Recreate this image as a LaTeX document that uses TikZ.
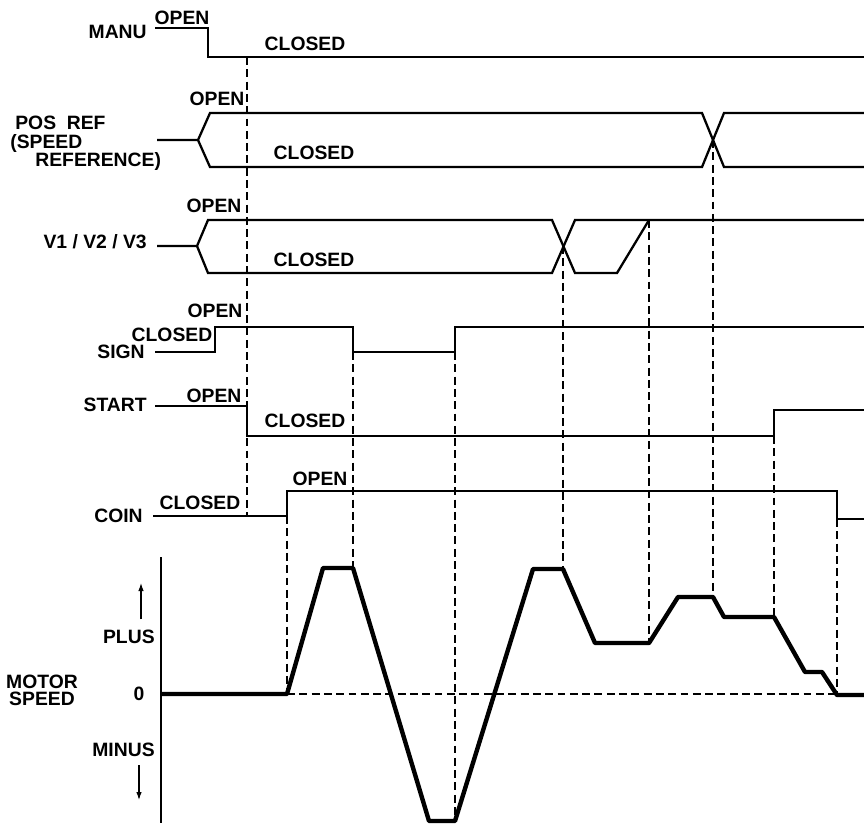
\documentclass[tikz,border=0pt]{standalone}
\usepackage{fontspec}
\setmainfont{Liberation Sans}
\usetikzlibrary{arrows.meta}
\tikzset{
  sig/.style={line width=1.3pt, line join=miter},
  speed/.style={line width=2.5pt, line join=round},
  guide/.style={line width=0.7pt, dash pattern=on 4.5pt off 2.5pt},
  lbl/.style={inner sep=0pt, font=\bfseries\fontsize{11}{11}\selectfont},
  tip/.style={-{Latex[length=1.6mm,width=1.1mm]}, line width=0.6pt}
}

\begin{document}
\begin{tikzpicture}[x=0.02cm, y=-0.02cm]
  \useasboundingbox (0,0) rectangle (864,823);

  % signal names
  \node[lbl, anchor=east] (manu) at (147,32) {MANU};
  \node[lbl, anchor=north west, align=left, font=\bfseries\fontsize{11}{10.4}\selectfont] (posref) at (10,116)
    {\hspace*{0.1cm}POS\ \ REF\\(SPEED\\\hspace*{0.5cm}REFERENCE)};
  \node[lbl, anchor=east] (vvv) at (147,242) {V1 / V2 / V3};
  \node[lbl, anchor=east] (sign) at (145,352) {SIGN};
  \node[lbl, anchor=east] (start) at (147,405) {START};
  \node[lbl, anchor=east] (coin) at (143,516) {COIN};
  \node[lbl, align=center, font=\bfseries\fontsize{11}{9.6}\selectfont] (motor) at (42,690) {MOTOR\\SPEED};

  % state labels
  \node[lbl] (manuOpen) at (182,18) {OPEN};
  \node[lbl] (manuClosed) at (305,44) {CLOSED};
  \node[lbl] (posOpen) at (217,99) {OPEN};
  \node[lbl] (posClosed) at (314,153) {CLOSED};
  \node[lbl] (vOpen) at (214,206) {OPEN};
  \node[lbl] (vClosed) at (314,260) {CLOSED};
  \node[lbl] (signOpen) at (215,311) {OPEN};
  \node[lbl] (signClosed) at (172,335) {CLOSED};
  \node[lbl] (startOpen) at (214,396) {OPEN};
  \node[lbl] (startClosed) at (305,421) {CLOSED};
  \node[lbl] (coinClosed) at (200,503) {CLOSED};
  \node[lbl] (coinOpen) at (320,479) {OPEN};

  % speed axis
  \node[lbl, anchor=east] (plus) at (155,637) {PLUS};
  \node[lbl] (zero) at (139,694) {0};
  \node[lbl, anchor=east] (minus) at (155,750) {MINUS};
  \coordinate (axTop) at (161,557);
  \coordinate (axBot) at (161,823);
  \draw[line width=0.8pt] (axTop) -- (axBot);
  \coordinate (upEnd) at (141,583);
  \coordinate (downEnd) at (139,800);
  \draw[tip] ([yshift=6pt]plus.north -| upEnd) -- (upEnd);
  \draw[tip] ([yshift=-4.5pt]minus.south -| downEnd) -- (downEnd);

  % waveforms
  \draw[sig] (155,28) -- (208,28) -- (208,57) -- (247,57) coordinate (g1a) -- (864,57);
  \draw[sig] (157,140) -- (198,140) -- (210,113) -- (702,113) -- (724,167) -- (864,167);
  \draw[sig] (198,140) -- (210,167) -- (702,167) -- (724,113) -- (864,113);
  \coordinate (g7a) at (713,140);
  \draw[sig] (157,246) -- (197,246) -- (208,220) -- (552,220) -- (575,273) -- (617,273) -- (649,220) coordinate (g6a);
  \draw[sig] (197,246) -- (208,273) -- (552,273) -- (575,220) -- (864,220);
  \coordinate (g5a) at (563,246);
  \draw[sig] (155,352) -- (215,352) -- (215,327) -- (353,327) -- (353,352) coordinate (g3a)
    -- (455,352) coordinate (g4a) -- (455,327) -- (864,327);
  \draw[sig] (155,406) -- (247,406) -- (247,436) -- (774,436) coordinate (g8a) -- (774,410) -- (864,410);
  \draw[sig] (153,516) -- (247,516) coordinate (g1b) -- (287,516) coordinate (g2a) -- (287,491)
    -- (837,491) -- (837,519) coordinate (g9a) -- (864,519);

  % motor speed
  \draw[guide] (287,694) -- (837,694);
  \draw[speed] (161,694) -- (287,694) coordinate (g2b) -- (323,568) -- (353,568) coordinate (g3b)
    -- (429,821) -- (455,821) coordinate (g4b) -- (533,569) -- (563,569) coordinate (g5b)
    -- (595,643) -- (649,643) coordinate (g6b) -- (678,597) -- (713,597) coordinate (g7b)
    -- (724,617) -- (774,617) coordinate (g8b) -- (805,672) -- (822,672)
    -- (837,695) coordinate (g9b) -- (864,695);

  % timing guides
  \draw[guide] (g1a) -- (g1b);
  \draw[guide] (g2a) -- (g2b);
  \draw[guide] (g3a) -- (g3b);
  \draw[guide] (g4a) -- (g4b);
  \draw[guide] (g5a) -- (g5b);
  \draw[guide] (g6a) -- (g6b);
  \draw[guide] (g7a) -- (g7b);
  \draw[guide] (g8a) -- (g8b);
  \draw[guide] (g9a) -- (g9b);
\end{tikzpicture}
\end{document}
